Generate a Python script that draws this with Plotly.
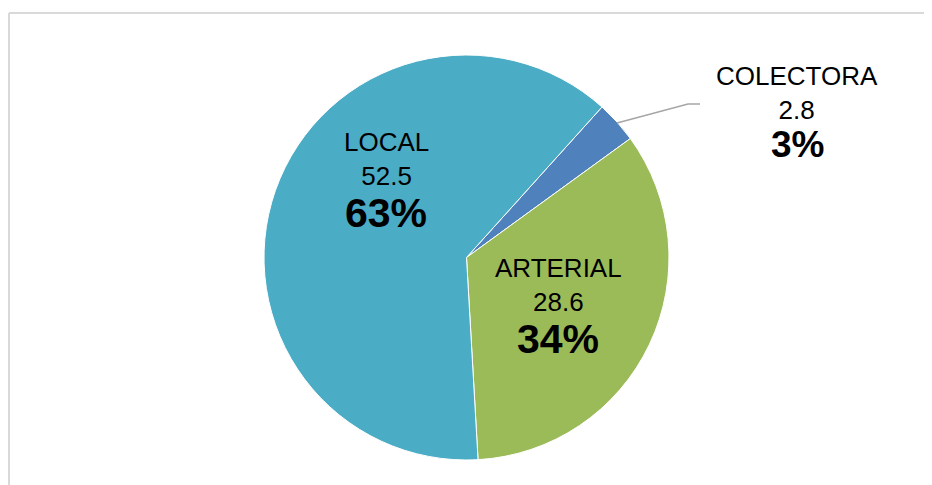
import plotly.graph_objects as go

# Data
categories = ["COLECTORA", "ARTERIAL", "LOCAL"]
values = [2.8, 28.6, 52.5]
colors = ["#4F81BD", "#9BBB59", "#4BACC6"]

# page body adds an 8px offset; figure sized to fit the window
OFF = 8
W, H = 932 - OFF, 485 - OFF
total = sum(values)
pcts = [round(v / total * 100) for v in values]

def px(x):
    return (x - OFF) / W

def py(y):
    return 1 - (y - OFF) / H

fig = go.Figure()
fig.add_trace(go.Pie(
    labels=categories,
    values=values,
    sort=False,
    direction="clockwise",
    rotation=42,
    marker=dict(colors=colors, line=dict(color="white", width=1)),
    textinfo="none",
    hoverinfo="label+value+percent",
    showlegend=False,
    domain=dict(x=[px(264), px(669)], y=[py(460), py(55)]),
))

# label positions (pixel centers): name/value block, percent
label_pos = {
    "LOCAL": ((386, 159), (386, 213)),
    "ARTERIAL": ((558, 285), (558, 339)),
    "COLECTORA": ((797, 93), (797, 144)),
}
name_size = {"LOCAL": 26, "ARTERIAL": 26, "COLECTORA": 26}
pct_size = {"LOCAL": 41, "ARTERIAL": 41, "COLECTORA": 37}

annotations = []
for cat, val, pct in zip(categories, values, pcts):
    (x1, y1), (x2, y2) = label_pos[cat]
    annotations.append(dict(
        x=px(x1), y=py(y1), xref="paper", yref="paper",
        text=f"{cat}<br>{val}", showarrow=False,
        xanchor="center", yanchor="middle", align="center",
        font=dict(family="Liberation Sans, Arial, sans-serif", size=name_size[cat], color="black"),
    ))
    annotations.append(dict(
        x=px(x2), y=py(y2), xref="paper", yref="paper",
        text=f"<b>{pct}%</b>", showarrow=False,
        xanchor="center", yanchor="middle", align="center",
        font=dict(family="Liberation Sans, Arial, sans-serif", size=pct_size[cat], color="black"),
    ))

shapes = [
    # chart border (top and left visible)
    dict(type="line", xref="paper", yref="paper", x0=px(9), x1=px(945), y0=py(13), y1=py(13),
         line=dict(color="#D9D9D9", width=2)),
    dict(type="line", xref="paper", yref="paper", x0=px(9), x1=px(9), y0=py(13), y1=py(500),
         line=dict(color="#D9D9D9", width=2)),
    # leader line for COLECTORA
    dict(type="path", xref="paper", yref="paper",
         path=f"M {px(617)},{py(123)} L {px(688)},{py(104)} L {px(700)},{py(104)}",
         line=dict(color="#A6A6A6", width=1.5)),
]

fig.update_layout(
    width=W, height=H,
    margin=dict(l=0, r=0, t=0, b=0),
    paper_bgcolor="white",
    plot_bgcolor="white",
    annotations=annotations,
    shapes=shapes,
)

fig.write_html("out.html")
